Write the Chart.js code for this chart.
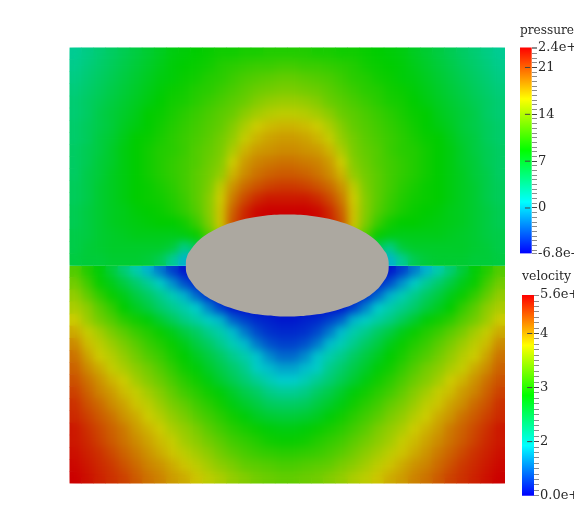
<!DOCTYPE html>
<html><head><meta charset="utf-8">
<style>
html,body{margin:0;padding:0;background:#fff;overflow:hidden;width:574px;height:531px}
canvas{position:absolute;display:block}
</style>
<script src="https://cdn.jsdelivr.net/npm/chart.js@4"></script>
</head><body>
<canvas id="field" width="574" height="531" style="left:0;top:0"></canvas>
<canvas id="pbar" width="69" height="245" style="left:505px;top:20px"></canvas>
<canvas id="vbar" width="69" height="245" style="left:505px;top:265px"></canvas>
<script>
// Colour level (0 = blue, 100 = red), one row per band, top to bottom
const pressureRows = [
[32,34,36,38,40,42,44,46,48,49,50,51,52,52,53,53,54,54,54,54,53,53,52,52,51,50,49,48,46,44,42,40,38,36,34,32],
[33,35,37,39,41,43,45,47,49,50,51,52,54,55,56,57,57,58,58,57,57,56,55,54,52,51,50,49,47,45,43,41,39,37,35,33],
[34,36,38,40,42,44,46,48,49,51,52,54,55,57,59,60,61,62,62,61,60,59,57,55,54,52,51,49,48,46,44,42,40,38,36,34],
[35,37,39,41,43,45,47,49,51,52,54,55,57,59,61,63,64,65,65,64,63,61,59,57,55,54,52,51,49,47,45,43,41,39,37,35],
[36,38,40,42,44,46,48,50,52,53,55,57,59,61,63,66,68,69,69,68,66,63,61,59,57,55,53,52,50,48,46,44,42,40,38,36],
[36,38,41,43,45,47,50,51,53,55,57,59,61,63,67,70,72,73,73,72,70,67,63,61,59,57,55,53,51,50,47,45,43,41,38,36],
[37,39,41,43,46,48,50,52,54,56,58,60,62,66,71,75,77,78,78,77,75,71,66,62,60,58,56,54,52,50,48,46,43,41,39,37],
[37,39,42,44,47,50,51,53,55,57,59,61,64,68,74,78,80,81,81,80,78,74,68,64,61,59,57,55,53,51,50,47,44,42,39,37],
[38,40,42,45,48,50,52,54,55,57,60,62,65,71,78,81,82,83,83,82,81,78,71,65,62,60,57,55,54,52,50,48,45,42,40,38],
[38,40,43,45,48,50,52,54,56,58,60,63,66,75,81,84,85,86,86,85,84,81,75,66,63,60,58,56,54,52,50,48,45,43,40,38],
[38,41,43,46,48,50,52,54,56,58,61,64,68,78,83,86,88,89,89,88,86,83,78,68,64,61,58,56,54,52,50,48,46,43,41,38],
[39,41,44,46,48,50,51,53,55,58,61,65,73,82,87,90,92,93,93,92,90,87,82,73,65,61,58,55,53,51,50,48,46,44,41,39],
[39,41,44,46,48,50,51,52,54,57,61,66,75,85,91,95,97,97,97,97,95,91,85,75,66,61,57,54,52,51,50,48,46,44,41,39],
[40,42,44,46,47,49,50,51,53,56,60,66,76,88,95,99,100,100,100,100,99,95,88,76,66,60,56,53,51,50,49,47,46,44,42,40],
[40,42,44,46,47,48,49,50,50,52,57,65,76,90,96,99,100,100,100,100,99,96,90,76,65,57,52,50,50,49,48,47,46,44,42,40],
[41,42,44,45,46,47,47,47,47,48,51,60,70,80,90,95,100,100,100,100,95,90,80,70,60,51,48,47,47,47,47,46,45,44,42,41],
[41,43,44,45,45,45,45,45,43,34,40,40,40,40,40,40,40,40,40,40,40,40,40,40,40,40,34,43,45,45,45,45,45,44,43,41],
[42,43,43,44,44,44,43,40,32,22,22,22,22,22,22,22,22,22,22,22,22,22,22,22,22,22,22,32,40,43,44,44,44,43,43,42]
];
const velocityRows = [
[60,54,49,43,36,29,22,15,8,3,2,2,2,2,2,2,2,2,2,2,2,2,2,2,2,2,3,8,15,22,29,36,43,49,54,60],
[64,58,51,47,42,37,32,26,18,10,5,3,2,2,2,2,2,2,2,2,2,2,2,2,3,5,10,18,26,32,37,42,47,51,58,64],
[68,62,56,51,47,42,38,33,28,22,13,6,3,2,2,2,2,2,2,2,2,2,2,3,6,13,22,28,33,38,42,47,51,56,62,68],
[71,67,61,56,50,46,42,37,33,29,25,16,8,3,2,2,2,2,2,2,2,2,3,8,16,25,29,33,37,42,46,50,56,61,67,71],
[75,69,64,60,55,52,49,44,39,34,30,26,22,12,8,5,4,3,3,4,5,8,12,22,26,30,34,39,44,49,52,55,60,64,69,75],
[79,74,70,65,61,57,54,51,47,42,38,33,29,23,15,9,6,5,5,6,9,15,23,29,33,38,42,47,51,54,57,61,65,70,74,79],
[83,77,73,69,65,61,57,54,51,47,42,38,33,28,23,15,10,8,8,10,15,23,28,33,38,42,47,51,54,57,61,65,69,73,77,83],
[86,80,75,72,68,64,60,57,53,50,46,42,38,33,29,24,17,13,13,17,24,29,33,38,42,46,50,53,57,60,64,68,72,75,80,86],
[88,83,79,74,71,67,64,60,56,52,49,45,41,37,33,26,23,20,20,23,26,33,37,41,45,49,52,56,60,64,67,71,74,79,83,88],
[90,86,82,78,75,70,66,63,59,55,52,48,44,40,36,32,28,25,25,28,32,36,40,44,48,52,55,59,63,66,70,75,78,82,86,90],
[92,88,84,81,77,74,70,66,62,58,55,52,49,45,41,38,34,32,32,34,38,41,45,49,52,55,58,62,66,70,74,77,81,84,88,92],
[94,90,87,83,80,76,73,69,65,62,58,55,52,48,45,42,39,38,38,39,42,45,48,52,55,58,62,65,69,73,76,80,83,87,90,94],
[95,92,89,86,82,79,75,72,68,65,61,58,55,52,49,46,44,43,43,44,46,49,52,55,58,61,65,68,72,75,79,82,86,89,92,95],
[97,94,91,88,85,81,78,75,71,68,65,61,58,55,53,51,49,48,48,49,51,53,55,58,61,65,68,71,75,78,81,85,88,91,94,97],
[97,95,92,89,86,83,80,77,74,70,67,64,61,58,56,54,52,51,51,52,54,56,58,61,64,67,70,74,77,80,83,86,89,92,95,97],
[98,96,94,91,88,85,82,79,76,73,70,67,64,61,59,57,56,55,55,56,57,59,61,64,67,70,73,76,79,82,85,88,91,94,96,98],
[99,97,95,93,90,87,84,82,79,76,73,70,67,65,62,61,60,59,59,60,61,62,65,67,70,73,76,79,82,84,87,90,93,95,97,99],
[100,98,96,94,92,89,86,84,81,79,76,73,71,68,66,64,63,62,62,63,64,66,68,71,73,76,79,81,84,86,89,92,94,96,98,100]
];
// Body outline in the field's own units (half of the surface = 18)
const bodyX = [-8.40,-8.38,-8.29,-8.12,-7.28,-5.95,-4.21,-2.18,0,2.18,4.21,5.95,7.28,8.12,8.29,8.38,8.40];
const bodyTop = [0,0.37,0.73,1.09,2.11,2.98,3.65,4.07,4.21,4.07,3.65,2.98,2.11,1.09,0.73,0.37,0];
const bodyBottom = [0,-0.37,-0.73,-1.09,-2.11,-2.98,-3.65,-4.07,-4.21,-4.07,-3.65,-2.98,-2.11,-1.09,-0.73,-0.37,0];
// Legends
const pressureTickValues = [24,21,14,7,0,-6.8];
const pressureTickLabels = ['2.4e+','21','14','7','0','-6.8e-'];
const pressureLongTicks = [21,14,7,0];
const velocityTickValues = [4.71,4,3,2,1];
const velocityTickLabels = ['5.6e+','4','3','2','0.0e+'];
const velocityLongTicks = [4,3,2];

const FONT = {family:'"DejaVu Serif"', size:13};
const INK = '#2a2a2a';
const GRAY = '#aca8a0';

function levelColor(level){
  const hue = 240*(1-level/100);
  return 'hsl('+hue+',100%,40%)';
}
function rowsToCells(rows,firstRow){
  const pts=[];
  rows.forEach((row,j)=>row.forEach((lv,i)=>pts.push({x:i-17.5,y:17.5-(j+firstRow)})));
  return pts;
}
function rowsToColors(rows){ return rows.flat().map(levelColor); }

// Softens the band edges of a finished half of the field; the two halves meet on a whole pixel
const softenField = {
  id:'softenField',
  afterDatasetDraw(chart,args){
    const half = chart.data.datasets[args.index].half;
    if(!half) return;
    const a=chart.chartArea, c=chart.ctx, mid=Math.ceil((a.top+a.bottom)/2);
    const y=half==='top'?a.top:mid;
    const h=half==='top'?mid-a.top:a.bottom-mid;
    c.save();
    c.beginPath();c.rect(a.left,y,a.width,h);c.clip();
    c.filter='blur(4.5px)';
    c.drawImage(chart.canvas,a.left,y,a.width,h,a.left,y,a.width,h);
    c.restore();
  }
};

const cellStyle = {pointStyle:'rect',pointRadius:8.9,pointBorderWidth:0};
new Chart(document.getElementById('field'),{
  type:'scatter',
  data:{datasets:[
    {type:'line',data:bodyX.map((x,i)=>({x,y:bodyTop[i]})),tension:0.4,fill:false,borderColor:GRAY,borderWidth:0,pointRadius:0,order:0},
    {type:'line',data:bodyX.map((x,i)=>({x,y:bodyBottom[i]})),tension:0.4,fill:'-1',backgroundColor:GRAY,borderColor:GRAY,borderWidth:0,pointRadius:0,order:0},
    {data:rowsToCells(velocityRows,18),...cellStyle,pointBackgroundColor:rowsToColors(velocityRows),order:1,half:'bottom',clip:{left:0,right:0,bottom:0,top:-218.5}},
    {data:rowsToCells(pressureRows,0),...cellStyle,pointBackgroundColor:rowsToColors(pressureRows),order:2,half:'top',clip:{left:0,right:0,top:0,bottom:-217.5}}
  ]},
  options:{
    responsive:false,animation:false,events:[],devicePixelRatio:1,
    layout:{padding:{left:69.5,right:69,top:47.5,bottom:47.5}},
    plugins:{legend:{display:false},tooltip:{enabled:false},title:{display:false}},
    scales:{
      x:{type:'linear',min:-18,max:18,display:false},
      y:{type:'linear',min:-18,max:18,display:false}
    }
  },
  plugins:[softenField]
});

function colorBar(id,title,minV,maxV,step,tickValues,tickLabels,longTicks,opts){
  const minor=[];
  for(let k=Math.ceil(minV/step);k*step<maxV;k++) minor.push(+(k*step).toFixed(3));
  const all=[...new Set([minV,maxV,...tickValues,...minor])];
  new Chart(document.getElementById(id),{
    type:'bar',
    data:{datasets:[
      {type:'scatter',data:longTicks.map(v=>({x:0.79,y:v})),pointStyle:'line',pointRadius:2.6,pointBorderWidth:1,pointBorderColor:'#444',order:0},
      {type:'bar',data:[{x:0.5,y:[minV,maxV]}],barThickness:opts.barW,order:1,borderWidth:0,
        backgroundColor(ctx){
          const a=ctx.chart.chartArea; if(!a) return '#0f0';
          const g=ctx.chart.ctx.createLinearGradient(0,a.bottom,0,a.top);
          g.addColorStop(0,'#0000ff');g.addColorStop(0.25,'#00ffff');g.addColorStop(0.5,'#00ff00');g.addColorStop(0.75,'#ffff00');g.addColorStop(1,'#ff0000');
          return g;
        }}
    ]},
    options:{
      responsive:false,animation:false,events:[],devicePixelRatio:1,
      layout:{padding:{left:opts.left,right:0,top:0,bottom:opts.bottom}},
      plugins:{legend:{display:false},tooltip:{enabled:false},
        title:{display:true,text:title,align:'start',color:INK,font:{...FONT,size:12.5,weight:'normal',lineHeight:1.2},padding:opts.titlePad}},
      scales:{
        x:{type:'linear',min:0,max:1,display:false},
        y:{type:'linear',position:'right',min:minV,max:maxV,
          afterBuildTicks(s){s.ticks=all.map(v=>({value:v}));},
          afterFit(s){s.width=opts.axisW;},
          border:{display:false},
          grid:{drawOnChartArea:false,drawTicks:true,tickLength:opts.tickL,tickWidth:1,
            tickColor(c){return longTicks.includes(c.tick.value)?'#444':'#8c8c8c';}},
          ticks:{autoSkip:false,padding:1,color:INK,font:FONT,maxRotation:0,
            callback(v){const i=tickValues.indexOf(v);return i>=0?tickLabels[i]:'';}}
        }
      }
    }
  });
}
colorBar('pbar','pressure',-6.8,24,0.7,pressureTickValues,pressureTickLabels,pressureLongTicks,
  {left:15,bottom:11.5,axisW:42.3,barW:11.7,tickL:5.3,titlePad:{top:3.4,bottom:9}});
colorBar('vbar','velocity',1,4.71,0.1,velocityTickValues,velocityTickLabels,velocityLongTicks,
  {left:17,bottom:14.3,axisW:40,barW:12,tickL:5,titlePad:{top:4.5,bottom:10.6}});
</script>
</body></html>
